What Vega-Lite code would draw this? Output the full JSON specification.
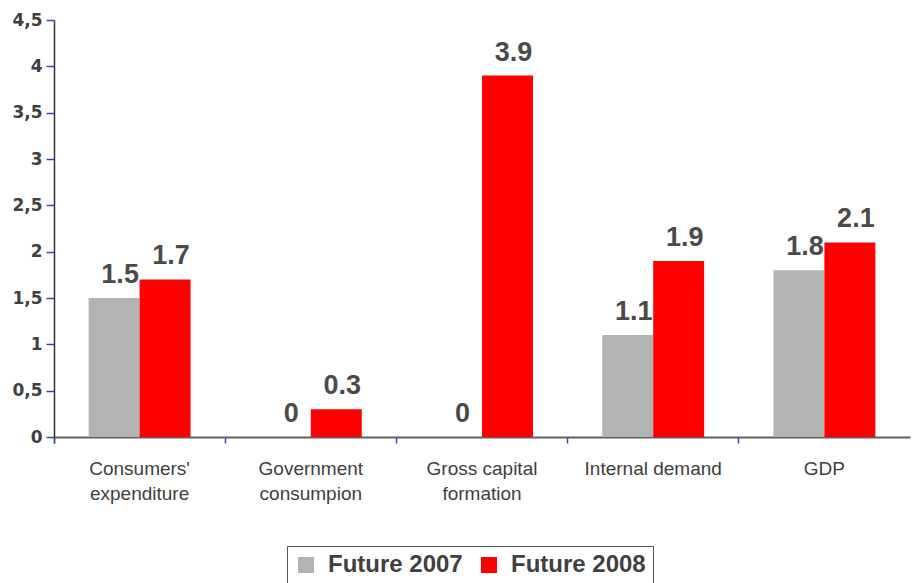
{
  "$schema": "https://vega.github.io/schema/vega-lite/v6.json",
  "autosize": "none",
  "width": 856,
  "height": 417,
  "padding": {"left": 54, "top": 20, "right": 2, "bottom": 146},
  "background": "white",
  "config": {
    "view": {"stroke": null},
    "font": "Liberation Sans"
  },
  "data": {
    "values": [
      {"cat": "Consumers'|expenditure", "series": "Future 2007", "value": 1.5},
      {"cat": "Consumers'|expenditure", "series": "Future 2008", "value": 1.7},
      {"cat": "Government|consumpion", "series": "Future 2007", "value": 0},
      {"cat": "Government|consumpion", "series": "Future 2008", "value": 0.3},
      {"cat": "Gross capital|formation", "series": "Future 2007", "value": 0},
      {"cat": "Gross capital|formation", "series": "Future 2008", "value": 3.9},
      {"cat": "Internal demand", "series": "Future 2007", "value": 1.1},
      {"cat": "Internal demand", "series": "Future 2008", "value": 1.9},
      {"cat": "GDP", "series": "Future 2007", "value": 1.8},
      {"cat": "GDP", "series": "Future 2008", "value": 2.1}
    ]
  },
  "encoding": {
    "x": {
      "field": "cat", "type": "nominal", "sort": null,
      "scale": {"paddingInner": 0, "paddingOuter": 0},
      "axis": {
        "title": null, "labelAngle": 0, "bandPosition": 0, "tickExtra": true,
        "labelExpr": "split(datum.label, '|')",
        "labelFont": "Liberation Sans", "labelFontSize": 19, "labelColor": "#404040",
        "labelLineHeight": 25, "labelPadding": 16, "labelBaseline": "top",
        "domainColor": "#606060", "domainWidth": 2, "tickColor": "#2a4ea8", "tickSize": 6, "tickWidth": 1.5
      }
    },
    "xOffset": {"field": "series", "type": "nominal", "scale": {"paddingInner": 0, "paddingOuter": 0.68}},
    "y": {
      "field": "value", "type": "quantitative",
      "scale": {"domain": [0, 4.5], "nice": false},
      "axis": {
        "title": null, "values": [0, 0.5, 1, 1.5, 2, 2.5, 3, 3.5, 4, 4.5], "grid": false,
        "labelExpr": "replace(format(datum.value, ''), '.', ',')",
        "labelFont": "DejaVu Sans", "labelFontSize": 17, "labelFontWeight": "bold", "labelColor": "#404040", "labelPadding": 4,
        "domainColor": "#333333", "domainWidth": 1.5, "tickColor": "#2a4ea8", "tickSize": 8, "tickWidth": 1.5
      }
    }
  },
  "layer": [
    {
      "mark": {"type": "bar"},
      "encoding": {
        "color": {
          "field": "series", "type": "nominal",
          "scale": {"domain": ["Future 2007", "Future 2008"], "range": ["#b3b3b3", "#ff0000"]},
          "legend": {
            "title": null, "orient": "none", "legendX": 233, "legendY": 526, "direction": "horizontal",
            "symbolType": "square", "symbolSize": 256, "symbolStrokeWidth": 0,
            "labelFontSize": 24, "labelFontWeight": "bold", "labelColor": "#404040",
            "columnPadding": 14, "labelOffset": 10, "padding": 7,
            "strokeColor": "#555555", "fillColor": "white"
          }
        }
      }
    },
    {
      "mark": {"type": "text", "fontSize": 27, "fontWeight": "bold", "color": "#4a4a4a", "baseline": "alphabetic", "dy": -15, "dx": 6},
      "encoding": {"text": {"field": "value", "type": "quantitative", "format": ".1~f"}}
    }
  ]
}
